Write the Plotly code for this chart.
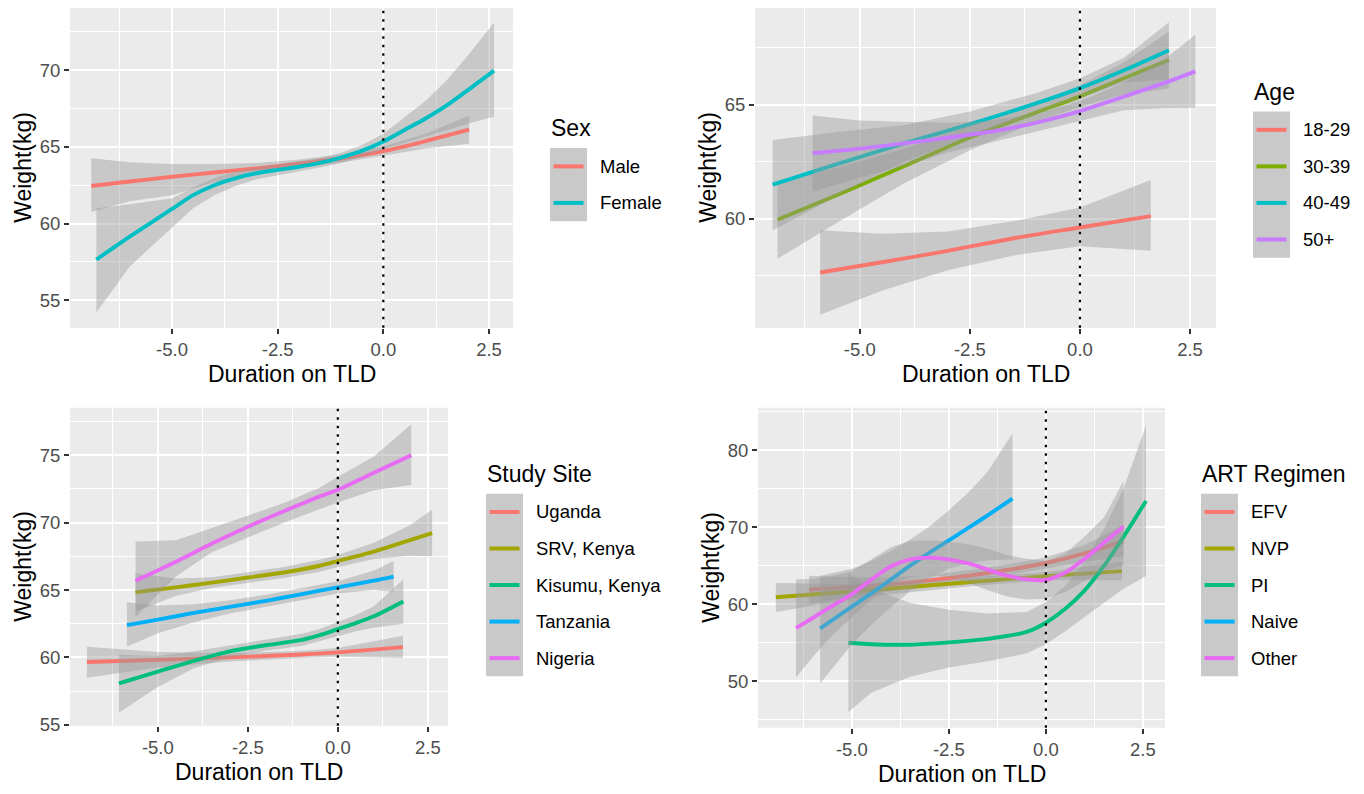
import plotly.graph_objects as go

W, H = 1364, 794

# ---------------- data ----------------
# Panel 1: Sex
sex_groups = ["Male", "Female"]
sex_colors = ["#F8766D", "#00BFC4"]
male_x = [-6.91, -6.0, -5.0, -4.0, -3.0, -2.0, -1.0, 0.0, 1.0, 2.03]
male_y = [62.45, 62.74, 63.05, 63.33, 63.60, 63.90, 64.24, 64.72, 65.38, 66.12]
male_lo = [60.75, 61.45, 61.85, 62.70, 63.25, 63.62, 63.98, 64.42, 64.90, 65.20]
male_hi = [64.25, 64.00, 63.88, 63.88, 63.95, 64.18, 64.50, 65.02, 65.86, 67.05]
female_x = [-6.79, -6.0, -5.0, -4.5, -4.0, -3.5, -3.0, -2.5, -2.0, -1.5, -1.0, -0.5, 0.0, 0.5, 1.0, 1.5, 2.0, 2.62]
female_y = [57.65, 59.15, 60.95, 61.85, 62.50, 62.95, 63.28, 63.50, 63.70, 63.95, 64.30, 64.75, 65.35, 66.10, 66.85, 67.70, 68.70, 69.97]
female_lo = [54.20, 57.20, 59.75, 61.00, 61.85, 62.45, 62.88, 63.15, 63.38, 63.65, 63.95, 64.35, 64.85, 65.30, 65.70, 66.10, 66.50, 66.97]
female_hi = [61.00, 61.25, 61.65, 62.35, 62.95, 63.40, 63.65, 63.85, 64.05, 64.28, 64.62, 65.12, 65.85, 66.90, 68.00, 69.35, 70.95, 73.10]

# Panel 2: Age
age_groups = ["18-29", "30-39", "40-49", "50+"]
age_colors = ["#F8766D", "#7CAE00", "#00BFC4", "#C77CFF"]
a1829_x = [-5.9, -4.5, -3.0, -1.5, 0.0, 1.61]
a1829_y = [57.65, 58.10, 58.60, 59.15, 59.62, 60.12]
a1829_lo = [55.80, 56.85, 57.75, 58.40, 58.80, 58.60]
a1829_hi = [59.50, 59.35, 59.45, 59.90, 60.50, 61.70]
a3039_x = [-6.87, -5.5, -4.0, -2.5, -1.0, 0.0, 1.0, 2.02]
a3039_y = [59.96, 61.05, 62.30, 63.56, 64.65, 65.36, 66.15, 66.95]
a3039_lo = [58.25, 59.85, 61.55, 63.00, 64.25, 64.90, 65.45, 65.70]
a3039_hi = [61.60, 62.25, 63.05, 64.10, 65.05, 65.85, 66.85, 68.20]
a4049_x = [-6.98, -5.5, -4.0, -2.5, -1.0, 0.0, 1.0, 2.02]
a4049_y = [61.50, 62.40, 63.30, 64.14, 65.05, 65.72, 66.50, 67.38]
a4049_lo = [59.50, 61.00, 62.50, 63.60, 64.60, 65.30, 65.95, 66.10]
a4049_hi = [63.45, 63.80, 64.10, 64.70, 65.50, 66.15, 67.05, 68.60]
a50_x = [-6.07, -5.0, -4.0, -3.0, -2.0, -1.0, 0.0, 1.0, 2.0, 2.62]
a50_y = [62.87, 63.07, 63.30, 63.55, 63.82, 64.20, 64.71, 65.35, 66.00, 66.45]
a50_lo = [61.20, 61.80, 62.30, 62.90, 63.35, 63.80, 64.28, 64.75, 64.85, 64.86]
a50_hi = [64.52, 64.30, 64.25, 64.20, 64.30, 64.60, 65.15, 65.95, 67.10, 68.05]

# Panel 3: Study Site
site_groups = ["Uganda", "SRV, Kenya", "Kisumu, Kenya", "Tanzania", "Nigeria"]
site_colors = ["#F8766D", "#A3A500", "#00BF7D", "#00B0F6", "#E76BF3"]
ug_x = [-6.97, -5.0, -3.0, -1.0, 0.0, 1.81]
ug_y = [59.66, 59.82, 60.00, 60.22, 60.37, 60.76]
ug_lo = [58.50, 59.25, 59.70, 59.95, 60.05, 59.95]
ug_hi = [60.80, 60.40, 60.30, 60.50, 60.70, 61.60]
srv_x = [-5.62, -4.5, -3.5, -2.5, -1.5, -0.5, 0.0, 1.0, 2.0, 2.62]
srv_y = [64.83, 65.20, 65.55, 65.93, 66.30, 66.80, 67.15, 67.85, 68.70, 69.22]
srv_lo = [63.40, 64.55, 65.15, 65.55, 65.90, 66.35, 66.70, 67.30, 67.55, 67.50]
srv_hi = [66.25, 65.85, 65.95, 66.30, 66.70, 67.25, 67.60, 68.50, 69.80, 70.95]
kis_x = [-6.08, -5.0, -4.0, -3.0, -2.0, -1.0, -0.5, 0.0, 0.5, 1.0, 1.82]
kis_y = [58.07, 58.95, 59.75, 60.45, 60.90, 61.30, 61.65, 62.10, 62.55, 63.05, 64.15]
kis_lo = [55.90, 57.80, 59.20, 60.00, 60.50, 60.85, 61.20, 61.60, 61.95, 62.20, 62.50]
kis_hi = [60.20, 60.10, 60.45, 60.90, 61.30, 61.75, 62.10, 62.60, 63.15, 63.80, 65.80]
tz_x = [-5.86, -5.0, -4.0, -3.0, -2.0, -1.0, 0.0, 1.0, 1.55]
tz_y = [62.39, 62.80, 63.30, 63.75, 64.20, 64.70, 65.20, 65.70, 66.00]
tz_lo = [60.80, 61.80, 62.60, 63.25, 63.75, 64.25, 64.75, 65.00, 64.85]
tz_hi = [64.10, 63.85, 63.95, 64.25, 64.65, 65.15, 65.65, 66.45, 67.15]
ng_x = [-5.62, -4.5, -3.5, -2.5, -1.5, -0.5, 0.0, 1.0, 2.04]
ng_y = [65.68, 67.10, 68.45, 69.70, 70.85, 71.95, 72.44, 73.70, 75.00]
ng_lo = [63.00, 66.00, 67.80, 68.90, 70.00, 71.00, 71.50, 72.40, 72.80]
ng_hi = [68.60, 68.70, 69.60, 70.50, 71.45, 72.60, 73.40, 74.90, 77.30]

# Panel 4: ART Regimen
art_groups = ["EFV", "NVP", "PI", "Naive", "Other"]
art_colors = ["#F8766D", "#A3A500", "#00BF7D", "#00B0F6", "#E76BF3"]
efv_x = [-6.1, -5.0, -4.0, -3.0, -2.0, -1.0, 0.0, 1.0, 2.0]
efv_y = [61.90, 62.25, 62.60, 63.10, 63.70, 64.45, 65.35, 66.60, 68.20]
efv_lo = [60.00, 61.00, 61.70, 62.40, 63.00, 63.75, 64.60, 65.50, 66.20]
efv_hi = [63.70, 63.50, 63.50, 63.80, 64.40, 65.15, 66.10, 67.70, 70.30]
nvp_x = [-6.96, -5.0, -4.0, -2.0, 0.0, 1.96]
nvp_y = [60.90, 61.65, 62.05, 62.85, 63.65, 64.30]
nvp_lo = [59.00, 60.70, 61.30, 62.30, 63.10, 63.10]
nvp_hi = [62.75, 62.60, 62.80, 63.40, 64.20, 65.50]
pi_x = [-5.09, -4.5, -3.5, -2.5, -1.5, -0.5, 0.0, 0.5, 1.0, 1.5, 2.0, 2.58]
pi_y = [55.00, 54.80, 54.75, 55.05, 55.50, 56.40, 57.60, 59.40, 61.80, 65.00, 68.75, 73.40]
pi_lo = [46.00, 48.50, 50.60, 51.80, 52.60, 53.60, 54.80, 56.50, 58.30, 60.20, 62.00, 63.65]
pi_hi = [64.10, 62.00, 60.20, 59.30, 58.80, 59.00, 60.30, 62.40, 65.60, 69.80, 75.00, 83.20]
naive_x = [-5.82, -5.0, -4.5, -4.0, -3.5, -3.0, -2.5, -2.0, -1.5, -0.86]
naive_y = [56.85, 59.70, 61.40, 63.20, 65.00, 66.70, 68.30, 69.90, 71.55, 73.70]
naive_lo = [49.70, 54.80, 57.30, 59.60, 61.70, 63.40, 64.60, 65.30, 65.70, 65.80]
naive_hi = [63.70, 64.60, 65.60, 66.90, 68.40, 70.10, 72.20, 74.50, 77.20, 82.20]
other_x = [-6.44, -6.0, -5.5, -5.0, -4.5, -4.0, -3.5, -3.0, -2.5, -2.0, -1.5, -1.0, -0.5, 0.0, 0.5, 1.0, 1.5, 2.0]
other_y = [56.90, 58.25, 59.80, 61.30, 63.20, 64.90, 65.83, 66.05, 65.80, 65.30, 64.50, 63.70, 63.25, 63.15, 64.10, 65.90, 68.00, 70.10]
other_lo = [50.50, 53.20, 56.00, 58.30, 60.60, 62.40, 63.50, 63.80, 63.50, 62.80, 61.80, 61.00, 60.60, 60.70, 61.60, 63.00, 64.30, 65.00]
other_hi = [63.20, 63.30, 63.70, 64.30, 65.80, 67.40, 68.20, 68.30, 68.10, 67.80, 67.20, 66.40, 65.90, 65.60, 66.60, 68.80, 71.30, 76.00]

x_ticks = [-5.0, -2.5, 0.0, 2.5]
x_ticklabels = ["-5.0", "-2.5", "0.0", "2.5"]
x_minor = [-6.25, -3.75, -1.25, 1.25]
x_title = "Duration on TLD"
y_title = "Weight(kg)"

# ---------------- layout geometry (pixels) ----------------
panels = [
    dict(groups=sex_groups, colors=sex_colors, title="Sex",
         series=[(male_x, male_y, male_lo, male_hi), (female_x, female_y, female_lo, female_hi)],
         box=(70, 513, 8, 332), xr=[-7.413, 3.068], yr=[53.2, 74.06],
         yt=[55, 60, 65, 70], ym=[57.5, 62.5, 67.5, 72.5], leg=(550, 150)),
    dict(groups=age_groups, colors=age_colors, title="Age",
         series=[(a1829_x, a1829_y, a1829_lo, a1829_hi), (a3039_x, a3039_y, a3039_lo, a3039_hi),
                 (a4049_x, a4049_y, a4049_lo, a4049_hi), (a50_x, a50_y, a50_lo, a50_hi)],
         box=(755, 1216, 8, 332), xr=[-7.38, 3.09], yr=[55.23, 69.23],
         yt=[60, 65], ym=[57.5, 62.5, 67.5], leg=(1253, 113)),
    dict(groups=site_groups, colors=site_colors, title="Study Site",
         series=[(ug_x, ug_y, ug_lo, ug_hi), (srv_x, srv_y, srv_lo, srv_hi), (kis_x, kis_y, kis_lo, kis_hi),
                 (tz_x, tz_y, tz_lo, tz_hi), (ng_x, ng_y, ng_lo, ng_hi)],
         box=(70, 448, 413, 735), xr=[-7.44, 3.06], yr=[54.93, 78.52],
         yt=[55, 60, 65, 70, 75], ym=[57.5, 62.5, 67.5, 72.5, 77.5], leg=(486, 500)),
    dict(groups=art_groups, colors=art_colors, title="ART Regimen",
         series=[(efv_x, efv_y, efv_lo, efv_hi), (nvp_x, nvp_y, nvp_lo, nvp_hi), (pi_x, pi_y, pi_lo, pi_hi),
                 (naive_x, naive_y, naive_lo, naive_hi), (other_x, other_y, other_lo, other_hi)],
         box=(758, 1165, 413, 737), xr=[-7.42, 3.07], yr=[43.97, 85.5],
         yt=[50, 60, 70, 80], ym=[45, 55, 65, 75, 85], leg=(1201, 500)),
]

FONT = "Liberation Sans, Arial, Helvetica, sans-serif"
RIBBON = "rgba(153,153,153,0.42)"
KEY = 37

def px(x):
    return x / W

def py(y):
    return 1 - y / H

fig = go.Figure()
layout = dict(width=W, height=H, margin=dict(l=0, r=0, t=0, b=0), autosize=False,
              paper_bgcolor="white", plot_bgcolor="#EBEBEB", showlegend=False,
              font=dict(family=FONT, color="black"))
shapes, annotations = [], []

for i, p in enumerate(panels, start=1):
    sfx = "" if i == 1 else str(i)
    xa, ya = "x" + sfx, "y" + sfx
    L, R, T, B = p["box"]
    for (xs, ys, lo, hi), col in zip(p["series"], p["colors"]):
        fig.add_trace(go.Scatter(x=list(xs) + list(xs[::-1]), y=list(hi) + list(lo[::-1]),
                                 fill="toself", fillcolor=RIBBON, mode="lines",
                                 line=dict(width=0, color="rgba(0,0,0,0)"),
                                 hoverinfo="skip", xaxis=xa, yaxis=ya))
        fig.add_trace(go.Scatter(x=xs, y=ys, mode="lines",
                                 line=dict(color=col, width=3.9, shape="spline", smoothing=0.7),
                                 xaxis=xa, yaxis=ya))
    common = dict(showline=False, zeroline=False, gridcolor="white", gridwidth=1.8,
                  ticks="outside", ticklen=5, tickwidth=1.8, tickcolor="#333333",
                  tickfont=dict(family=FONT, size=18.5, color="#4D4D4D"), fixedrange=True)
    layout["xaxis" + sfx] = dict(domain=[px(L), px(R)], range=p["xr"], anchor=ya,
                                 tickmode="array", tickvals=x_ticks, ticktext=x_ticklabels,
                                 minor=dict(tickmode="array", tickvals=x_minor, showgrid=True,
                                            gridcolor="white", gridwidth=0.9, ticks=""),
                                 **common)
    layout["yaxis" + sfx] = dict(domain=[py(B), py(T)], range=p["yr"], anchor=xa,
                                 tickmode="array", tickvals=p["yt"], ticktext=[str(v) for v in p["yt"]],
                                 minor=dict(tickmode="array", tickvals=p["ym"], showgrid=True,
                                            gridcolor="white", gridwidth=0.9, ticks=""),
                                 **common)
    # dotted vertical line at 0
    shapes.append(dict(type="line", xref=xa, yref=ya + " domain", x0=0, x1=0, y0=0, y1=1,
                       line=dict(color="black", width=2.2, dash="2.5px,6px"), layer="above"))
    # axis titles
    annotations.append(dict(text=x_title, xref="paper", yref="paper", x=px((L + R) / 2), y=py(B + 47),
                            xanchor="center", yanchor="middle", showarrow=False,
                            font=dict(family=FONT, size=23, color="black")))
    annotations.append(dict(text=y_title, xref="paper", yref="paper", x=px(L - 47), y=py((T + B) / 2),
                            xanchor="center", yanchor="middle", showarrow=False, textangle=-90,
                            font=dict(family=FONT, size=23, color="black")))
    # legend
    lx, ly = p["leg"]
    n = len(p["groups"])
    annotations.append(dict(text=p["title"], xref="paper", yref="paper", x=px(lx - 1), y=py(ly - 20),
                            xanchor="left", yanchor="middle", showarrow=False,
                            font=dict(family=FONT, size=23, color="black")))
    shapes.append(dict(type="rect", xref="paper", yref="paper", x0=px(lx), x1=px(lx + KEY),
                       y0=py(ly + n * KEY), y1=py(ly), fillcolor="#C9C9C9", line=dict(width=0)))
    for k, (g, col) in enumerate(zip(p["groups"], p["colors"])):
        yc = ly + KEY / 2 + k * KEY
        shapes.append(dict(type="line", xref="paper", yref="paper", x0=px(lx + 3.5), x1=px(lx + KEY - 3.5),
                           y0=py(yc), y1=py(yc), line=dict(color=col, width=4)))
        annotations.append(dict(text=g, xref="paper", yref="paper", x=px(lx + 48), y=py(yc),
                                xanchor="left", yanchor="middle", showarrow=False,
                                font=dict(family=FONT, size=18.5, color="black")))

layout["shapes"] = shapes
layout["annotations"] = annotations
fig.update_layout(**layout)
fig.write_html("out.html")
